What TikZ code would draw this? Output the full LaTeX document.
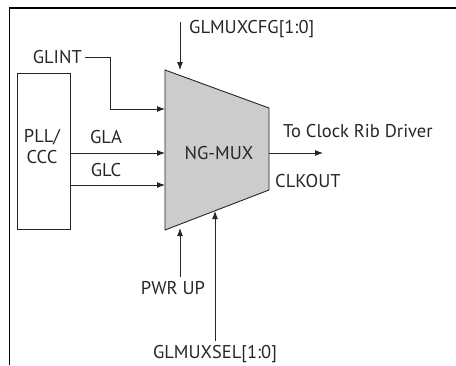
\documentclass[tikz,border=0pt]{standalone}
\usepackage{fontspec}
\setmainfont{PT Sans}
\usetikzlibrary{arrows.meta}

\begin{document}
\begin{tikzpicture}[x=1pt,y=-1pt,
    sig/.style={draw=black!85,line width=0.9pt,-{Latex[length=8pt,width=6pt]}},
    lbl/.style={font=\fontsize{18.5}{20}\selectfont,text=black!85,inner sep=0pt}]
  \useasboundingbox (0,0) rectangle (456,365);
  % frame (cut at right and bottom)
  \draw[line width=1.4pt] (9.5,365) -- (9.5,8) -- (456,8);
  % PLL/CCC block
  \draw[line width=0.9pt,draw=black!85] (17,73) rectangle (70,229);
  \node[lbl,align=center] (pll) at (42,147) {PLL/\\[1pt]CCC};
  % the mux
  \coordinate (mtl) at (165,70);  \coordinate (mtr) at (269,108);
  \coordinate (mbr) at (269,190); \coordinate (mbl) at (165,230);
  \draw[line width=0.9pt,draw=black!85,fill=black!20] (mtl) -- (mtr) -- (mbr) -- (mbl) -- cycle;
  \node[lbl] (mux) at (219,153) {NG-MUX};
  % inputs
  \node[lbl,anchor=east] (glint) at (82,57) {GLINT};
  \coordinate (ina) at (70,153);  \coordinate (inc) at (70,185);
  \coordinate (mint) at (165,109); \coordinate (mgla) at (165,153); \coordinate (mglc) at (165,185);
  \draw[sig] (glint.east) ++(3,0) -| (110,109) -- (mint);
  \draw[sig] (ina) -- (mgla);
  \draw[sig] (inc) -- (mglc);
  \node[lbl] (gla) at (106,137) {GLA};
  \node[lbl] (glc) at (106,170) {GLC};
  % config / select / power up
  \node[lbl,anchor=west] (cfg) at (189,29) {GLMUXCFG[1:0]};
  \coordinate (cfgtop) at (180,22); \coordinate (mcfg) at (180,70);
  \draw[sig] (cfgtop) -- (mcfg);
  \node[lbl] (pwr) at (173,288) {PWR UP};
  \coordinate (pwrbot) at (180,277); \coordinate (mpwr) at (180,228);
  \draw[sig] (pwrbot) -- (mpwr);
  \node[lbl] (sel) at (215,354) {GLMUXSEL[1:0]};
  \coordinate (selbot) at (215,341); \coordinate (msel) at (215,211);
  \draw[sig] (selbot) -- (msel);
  % output
  \coordinate (mout) at (269,153); \coordinate (outend) at (323,153);
  \draw[sig] (mout) -- (outend);
  \node[lbl,anchor=west] (drv) at (283,131) {To Clock Rib Driver};
  \node[lbl,anchor=west] (clkout) at (275,181) {CLKOUT};
\end{tikzpicture}
\end{document}
